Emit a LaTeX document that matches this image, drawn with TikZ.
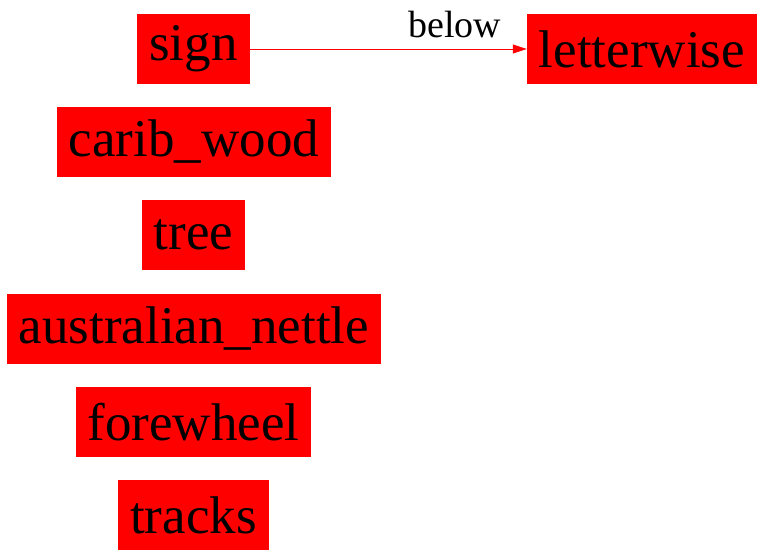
\documentclass[tikz,border=0pt]{standalone}
\usepackage{fontspec}
\setmainfont{Liberation Serif}
\usetikzlibrary{arrows.meta}

\begin{document}
\begin{tikzpicture}[x=1pt,y=-1pt,
  box/.style={fill=red,inner xsep=12pt,inner ysep=0pt,minimum height=70pt,
    font=\fontsize{53}{60}\selectfont},
  rel/.style={draw=red,-{Triangle[length=14pt,width=9pt]},line width=0.8pt}]
\useasboundingbox (0,0) rectangle (764,556);
\node[box] (sign) at (193.5,49) {sign};
\node[box] (letterwise) at (642,49) {letterwise};
\node[box] (caribwood) at (194,142) {carib\_wood};
\node[box] (tree) at (193.5,235) {tree};
\node[box] (nettle) at (194,329) {australian\_nettle};
\node[box] (forewheel) at (193.5,422) {forewheel};
\node[box] (tracks) at (193.5,515) {tracks};
\draw[rel] (sign) -- node[pos=0.74,above=7pt,font=\fontsize{38}{44}\selectfont] (lbl) {below} (letterwise);
\end{tikzpicture}
\end{document}
